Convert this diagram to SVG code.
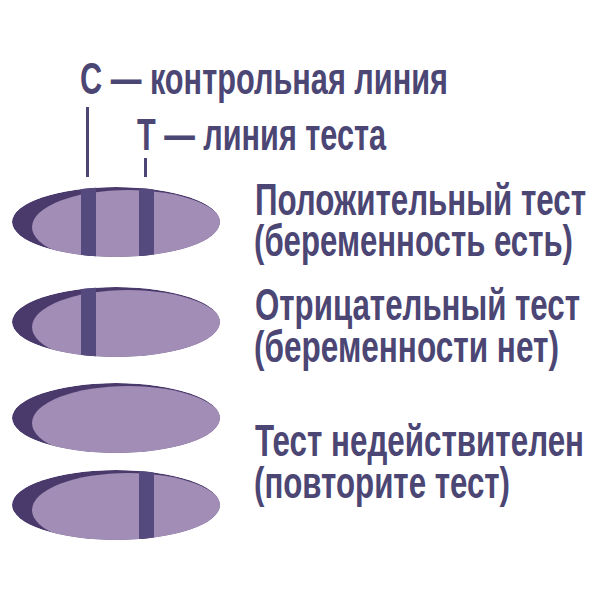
<svg xmlns="http://www.w3.org/2000/svg" width="600" height="600" viewBox="0 0 600 600">
<style>
.t{font-family:"Liberation Sans","Arial",sans-serif;font-size:44px;font-weight:bold;fill:#4b4674}
.dark{fill:#4a3a6c}
.light{fill:#a18db5}
.band{fill:#544a7d}
.ln{fill:#4b4674}
</style>
<defs>
<clipPath id="c1"><ellipse cx="116" cy="222" rx="104" ry="35"/></clipPath>
<clipPath id="c2"><ellipse cx="116" cy="322" rx="104" ry="35"/></clipPath>
<clipPath id="c3"><ellipse cx="116" cy="418" rx="104" ry="35"/></clipPath>
<clipPath id="c4"><ellipse cx="116" cy="505" rx="104" ry="35"/></clipPath>
</defs>
<rect width="600" height="600" fill="#ffffff"/>
<g id="legend">
<text class="t" x="80" y="94" textLength="368" lengthAdjust="spacingAndGlyphs">С — контрольная линия</text>
<text class="t" x="137" y="150" textLength="249" lengthAdjust="spacingAndGlyphs">Т — линия теста</text>
</g>
<g id="connectors">
<rect class="ln" x="86" y="107" width="3" height="70"/>
<rect class="ln" x="144" y="158" width="3" height="19"/>
</g>
<g id="test-positive">
<g clip-path="url(#c1)">
<ellipse class="dark" cx="116" cy="222" rx="104" ry="35"/>
<ellipse class="light" cx="128" cy="227" rx="96" ry="37"/>
<rect class="band" x="81" y="180" width="15" height="90"/>
<rect class="band" x="139" y="180" width="15" height="90"/>
</g>
<text class="t" x="255" y="215" textLength="331" lengthAdjust="spacingAndGlyphs">Положительный тест</text>
<text class="t" x="254" y="256" textLength="319" lengthAdjust="spacingAndGlyphs">(беременность есть)</text>
</g>
<g id="test-negative">
<g clip-path="url(#c2)">
<ellipse class="dark" cx="116" cy="322" rx="104" ry="35"/>
<ellipse class="light" cx="128" cy="327" rx="96" ry="37"/>
<rect class="band" x="81" y="280" width="15" height="90"/>
</g>
<text class="t" x="255" y="320" textLength="325" lengthAdjust="spacingAndGlyphs">Отрицательный тест</text>
<text class="t" x="254" y="362" textLength="305" lengthAdjust="spacingAndGlyphs">(беременности нет)</text>
</g>
<g id="test-invalid-1">
<g clip-path="url(#c3)">
<ellipse class="dark" cx="116" cy="418" rx="104" ry="35"/>
<ellipse class="light" cx="128" cy="423" rx="96" ry="37"/>
</g>
</g>
<g id="test-invalid-2">
<g clip-path="url(#c4)">
<ellipse class="dark" cx="116" cy="505" rx="104" ry="35"/>
<ellipse class="light" cx="128" cy="510" rx="96" ry="37"/>
<rect class="band" x="139" y="465" width="15" height="90"/>
</g>
<text class="t" x="255" y="456" textLength="329" lengthAdjust="spacingAndGlyphs">Тест недействителен</text>
<text class="t" x="254" y="498" textLength="256" lengthAdjust="spacingAndGlyphs">(повторите тест)</text>
</g>
</svg>
